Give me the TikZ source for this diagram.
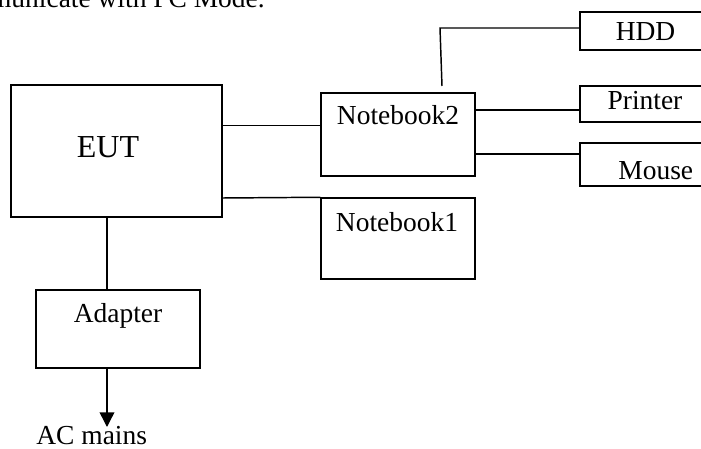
\documentclass[tikz,border=0pt]{standalone}
\usepackage{fontspec}
\setmainfont{Liberation Serif}
\usetikzlibrary{arrows.meta}
\begin{document}
\begin{tikzpicture}[x=0.75pt,y=-0.75pt,
  box/.style={draw,line width=1.1pt,rectangle,inner sep=0pt,anchor=center},
  lbl/.style={font=\fontsize{20.6}{24}\selectfont,inner sep=0pt,anchor=base},
  wire/.style={line width=1.1pt}]
\useasboundingbox (0,0) rectangle (701,449);
% boxes
\node[box,minimum width=211*0.75pt,minimum height=132*0.75pt] (eut) at (116.5,151) {};
\node[box,minimum width=154*0.75pt,minimum height=83*0.75pt] (nb2) at (398,134.5) {};
\node[box,minimum width=154*0.75pt,minimum height=81*0.75pt] (nb1) at (398,238.5) {};
\node[box,minimum width=150*0.75pt,minimum height=38*0.75pt] (hdd) at (655,31) {};
\node[box,minimum width=150*0.75pt,minimum height=36*0.75pt] (prn) at (655,104) {};
\node[box,minimum width=150*0.75pt,minimum height=43*0.75pt] (mse) at (655,164.5) {};
\node[box,minimum width=164*0.75pt,minimum height=78*0.75pt] (adp) at (118,329) {};
% texts
\node[lbl,anchor=base east] (top) at (265,7.5) {communicate with PC Mode.};
\node[lbl,font=\fontsize{24}{28}\selectfont] (teut) at (108,157.7) {EUT};
\node[lbl] (tnb2) at (398,125) {Notebook2};
\node[lbl] (tnb1) at (397,232) {Notebook1};
\node[lbl] (thdd) at (645.5,41) {HDD};
\node[lbl] (tprn) at (645,110) {Printer};
\node[lbl] (tmse) at (655.8,180) {Mouse};
\node[lbl] (tadp) at (118,322.7) {Adapter};
\node[lbl] (tac) at (91.7,445) {AC mains};
% coordinates
\coordinate (hb) at (442,86);
\coordinate (ht) at (440,28);
\coordinate (acp) at (107,427);
% connectors
\draw[wire] (eut.east |- 0,125.7) -- (nb2.west |- 0,125.7);
\draw[wire] (eut.east |- 0,198) -- (nb1.north west);
\draw[wire] (hb) -- (ht) -- (hdd.west |- ht);
\draw[wire] (nb2.east |- 0,110) -- (prn.west |- 0,110);
\draw[wire] (nb2.east |- 0,154) -- (mse.west |- 0,154);
\draw[wire] (eut.south -| 107,0) -- (adp.north -| 107,0);
\draw[wire,-{Triangle[length=11pt,width=11pt]}] (adp.south -| 107,0) -- (acp);
\end{tikzpicture}
\end{document}
